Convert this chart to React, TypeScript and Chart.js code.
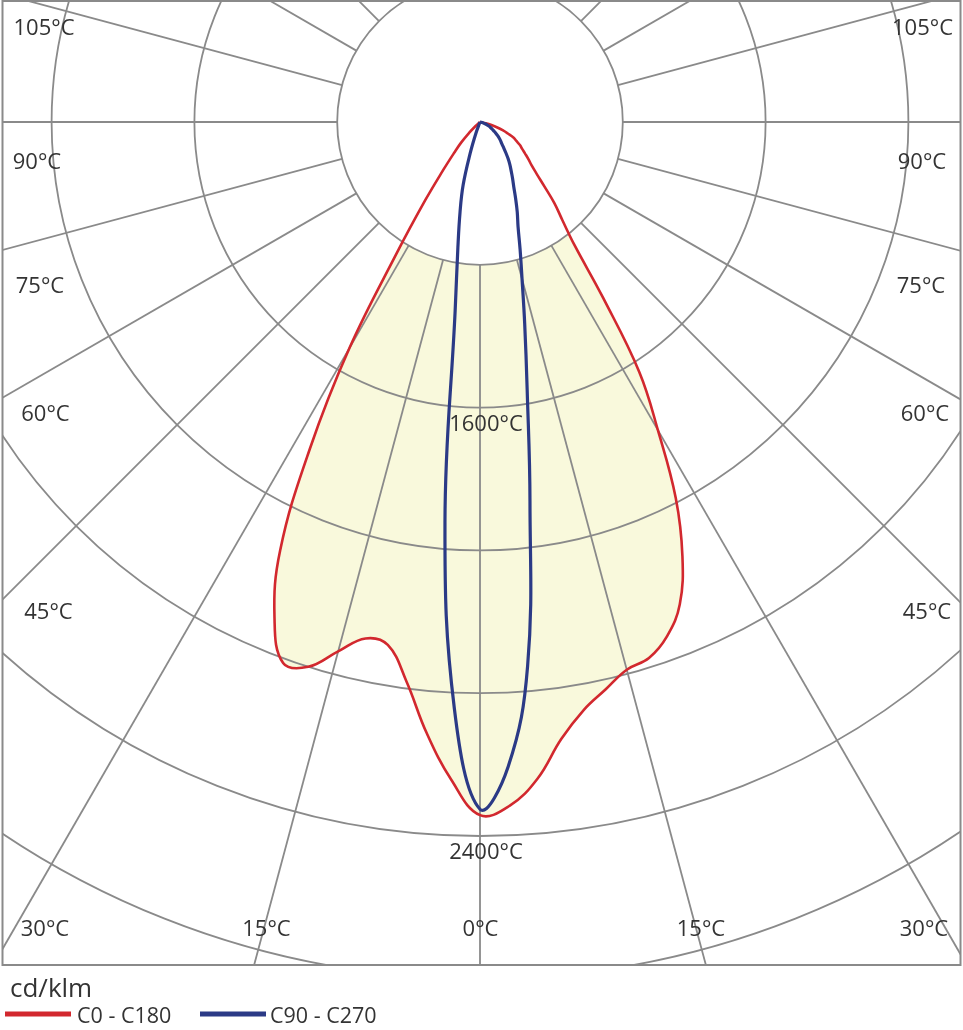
import React, { useEffect, useRef } from "react";
import { Chart, registerables } from "chart.js";

Chart.register(...registerables);

// Vertical angles gamma (degrees from nadir)
const GAMMA = [0, 2.5, 5, 7.5, 10, 12.5, 15, 17.5, 20, 22.5, 25, 27.5, 30, 32.5, 35, 37.5, 40, 42.5, 45, 47.5, 50, 52.5, 55, 57.5, 60, 62.5, 65, 67.5, 70, 72.5, 75, 77.5, 80];

// Luminous intensity, cd/klm
const C0 = [2330, 2300, 2216, 2092, 2007, 1953, 1906, 1889, 1839, 1755, 1610, 1425, 1196, 997, 721, 522, 431, 370, 306, 259, 226, 205, 185, 168, 155, 138, 125, 101, 81, 61, 40, 20, 0];
const C180 = [2330, 2213, 2061, 1896, 1785, 1778, 1842, 1920, 1935, 1805, 1590, 1239, 879, 512, 320, 202, 135, 94, 51, 20, 0, 0, 0, 0, 0, 0, 0, 0, 0, 0, 0, 0, 0];
const C90 = [2310, 2169, 1836, 1287, 913, 694, 546, 448, 374, 327, 283, 246, 219, 195, 175, 155, 135, 118, 104, 94, 84, 74, 64, 54, 47, 40, 34, 27, 20, 13, 10, 3, 0];
const C270 = [2310, 1974, 1351, 640, 428, 310, 219, 108, 40, 0, 0, 0, 0, 0, 0, 0, 0, 0, 0, 0, 0, 0, 0, 0, 0, 0, 0, 0, 0, 0, 0, 0, 0];

const RING_STEP = 480;
const RING_COUNT = 7;
const RADIAL_STEP_DEG = 15;

const SIDE_ANGLE_LABELS = ["105°C", "90°C", "75°C", "60°C", "45°C"];
const BOTTOM_ANGLE_LABELS = ["30°C", "15°C", "0°C", "15°C", "30°C"];
const INTENSITY_LABELS = ["1600°C", "2400°C"];
const INTENSITY_LABEL_RINGS = [2, 5];
const UNIT_LABEL = "cd/klm";
const SERIES_NAMES = ["C0 - C180", "C90 - C270"];

// ---- layout / style (not data) ----
const W = 963;
const H = 1030;
const AREA = { left: 2, top: 1, right: 960, bottom: 965 };
const CENTER = { x: 480, y: 122 };
const RING_PX = 142.8;
const PPU = RING_PX / RING_STEP;
const GRID_COLOR = "#8a8a8a";
const TEXT_COLOR = "#333333";
const RED = "#d2282e";
const BLUE = "#2b3a86";
const FILL = "#f9f9dc";
const FONT = '"Open Sans", "Noto Sans", sans-serif';
const SIDE_LEFT_X = [44, 37, 40, 45.5, 48.5];
const SIDE_RIGHT_X = [922.5, 922, 921, 925, 927];
const SIDE_Y = [29, 163, 287, 415, 613];
const BOTTOM_X = [45, 266.5, 480.5, 701, 924];
const BOTTOM_Y = 930;

function halfPoints(values: number[], side: number) {
  const pts: { x: number; y: number }[] = [];
  for (let i = 0; i < GAMMA.length; i++) {
    const g = (GAMMA[i] * Math.PI) / 180;
    const v = values[i];
    pts.push({ x: side * v * Math.sin(g), y: -v * Math.cos(g) });
    if (v === 0) break;
  }
  return pts;
}

function closedCurve(left: number[], right: number[]) {
  const l = halfPoints(left, -1).reverse();
  const r = halfPoints(right, 1).slice(1);
  return [...l, ...r];
}

const polarGrid = {
  id: "polarGrid",
  beforeDatasetsDraw(chart: any) {
    const { ctx, chartArea: a, scales } = chart;
    const xs = scales.x;
    const ys = scales.y;
    const cx = xs.getPixelForValue(0);
    const cy = ys.getPixelForValue(0);
    const rPx = (v: number) => xs.getPixelForValue(v) - cx;
    const r1 = rPx(RING_STEP);

    ctx.save();
    ctx.beginPath();
    ctx.rect(a.left, a.top, a.right - a.left, a.bottom - a.top);
    ctx.clip();

    ctx.fillStyle = "#ffffff";
    ctx.beginPath();
    ctx.arc(cx, cy, r1, 0, Math.PI * 2);
    ctx.fill();

    ctx.strokeStyle = GRID_COLOR;
    ctx.lineWidth = 1.8;
    for (let k = 1; k <= RING_COUNT; k++) {
      ctx.beginPath();
      ctx.arc(cx, cy, rPx(k * RING_STEP), 0, Math.PI * 2);
      ctx.stroke();
    }
    const far = rPx(RING_STEP * 20);
    for (let d = 0; d < 360; d += RADIAL_STEP_DEG) {
      const g = (d * Math.PI) / 180;
      const sx = Math.sin(g);
      const sy = Math.cos(g);
      ctx.beginPath();
      ctx.moveTo(cx + sx * r1, cy + sy * r1);
      ctx.lineTo(cx + sx * far, cy + sy * far);
      ctx.stroke();
    }
    ctx.restore();

    ctx.save();
    ctx.strokeStyle = GRID_COLOR;
    ctx.lineWidth = 2;
    ctx.strokeRect(a.left + 0.5, a.top, a.right - a.left, a.bottom - a.top);

    ctx.fillStyle = TEXT_COLOR;
    ctx.font = `22px ${FONT}`;
    ctx.textAlign = "center";
    ctx.textBaseline = "middle";
    SIDE_ANGLE_LABELS.forEach((t, i) => {
      ctx.fillText(t, SIDE_LEFT_X[i], SIDE_Y[i]);
      ctx.fillText(t, SIDE_RIGHT_X[i], SIDE_Y[i]);
    });
    BOTTOM_ANGLE_LABELS.forEach((t, i) => {
      ctx.fillText(t, BOTTOM_X[i], BOTTOM_Y);
    });
    INTENSITY_LABELS.forEach((t, i) => {
      const ry = ys.getPixelForValue(-INTENSITY_LABEL_RINGS[i] * RING_STEP);
      ctx.fillText(t, cx + 6, ry + 17);
    });
    ctx.restore();
  },
  afterDraw(chart: any) {
    const { ctx } = chart;
    ctx.save();
    ctx.fillStyle = TEXT_COLOR;
    ctx.textAlign = "left";
    ctx.textBaseline = "middle";
    ctx.font = `26px ${FONT}`;
    ctx.fillText(UNIT_LABEL, 10, 990);
    ctx.font = `21.5px ${FONT}`;
    const cols = [RED, BLUE];
    const lineX = [5, 200];
    const textX = [77, 270];
    SERIES_NAMES.forEach((name, i) => {
      ctx.fillStyle = cols[i];
      ctx.fillRect(lineX[i], 1011.5, 66, 5);
      ctx.fillStyle = TEXT_COLOR;
      ctx.fillText(name, textX[i], 1017);
    });
    ctx.restore();
  },
};

export default function App() {
  const ref = useRef<HTMLCanvasElement | null>(null);
  useEffect(() => {
    if (!ref.current) return;
    const xMin = (AREA.left - CENTER.x) / PPU;
    const xMax = (AREA.right - CENTER.x) / PPU;
    const yMax = (CENTER.y - AREA.top) / PPU;
    const yMin = -(AREA.bottom - CENTER.y) / PPU;
    const chart = new Chart(ref.current, {
      type: "line",
      data: {
        datasets: [
          {
            label: SERIES_NAMES[0],
            data: closedCurve(C180, C0),
            borderColor: RED,
            backgroundColor: FILL,
            borderWidth: 2.6,
            fill: "shape",
            tension: 0.4,
            pointRadius: 0,
            pointHitRadius: 0,
            order: 1,
          },
          {
            label: SERIES_NAMES[1],
            data: closedCurve(C270, C90),
            borderColor: BLUE,
            backgroundColor: "transparent",
            borderWidth: 3.2,
            fill: false,
            tension: 0.4,
            pointRadius: 0,
            pointHitRadius: 0,
            order: 0,
          },
        ],
      },
      options: {
        animation: false,
        responsive: false,
        maintainAspectRatio: false,
        events: [],
        layout: {
          padding: {
            left: AREA.left,
            top: AREA.top,
            right: W - AREA.right,
            bottom: H - AREA.bottom,
          },
        },
        scales: {
          x: { type: "linear", min: xMin, max: xMax, bounds: "data", display: false },
          y: { type: "linear", min: yMin, max: yMax, bounds: "data", display: false },
        },
        plugins: {
          legend: { display: false },
          tooltip: { enabled: false },
          filler: { drawTime: "beforeDraw" },
        },
      } as any,
      plugins: [polarGrid],
    });
    return () => chart.destroy();
  }, []);
  return (
    <div style={{ position: "absolute", left: 0, top: 0, width: W, height: H, background: "#fff" }}>
      <canvas ref={ref} width={W} height={H} style={{ display: "block" }} />
    </div>
  );
}
